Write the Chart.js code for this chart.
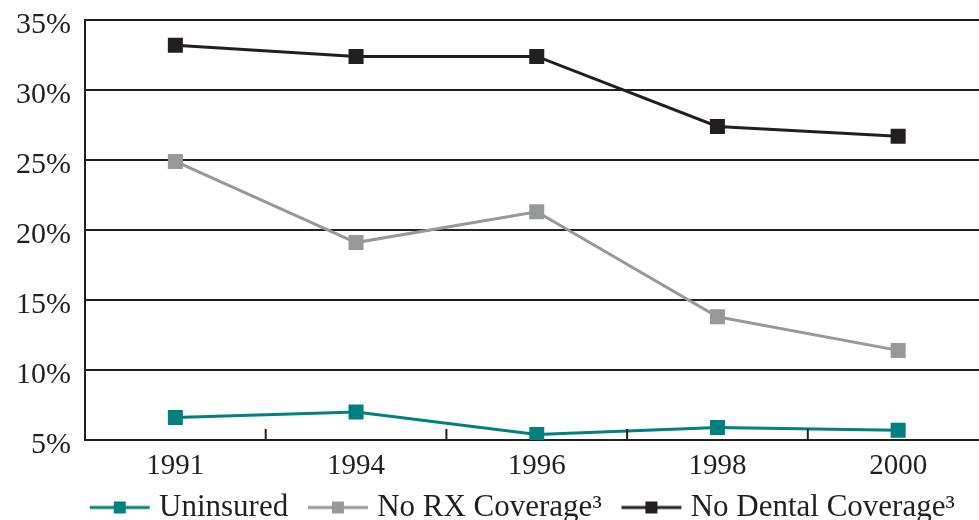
<!DOCTYPE html>
<html>
<head>
    <title>Coverage Chart</title>
    <script src="https://cdn.jsdelivr.net/npm/chart.js"></script>
    <style>
        html, body { margin: 0; padding: 0; overflow: hidden; background: #fff; }
        #wrap { width: 1000px; height: 533px; }
    </style>
</head>
<body>
    <div id="wrap"><canvas id="coverageChart"></canvas></div>
    <script>
        // data
        const years = ['1991', '1994', '1996', '1998', '2000'];
        const uninsured = [6.6, 7.0, 5.4, 5.9, 5.7];
        const noRx = [24.9, 19.1, 21.3, 13.8, 11.4];
        const noDental = [33.2, 32.4, 32.4, 27.4, 26.7];
        const yTicks = [5, 10, 15, 20, 25, 30, 35];

        const teal = '#00817f';
        const grey = '#97989a';
        const black = '#231f20';
        const serif = "'Liberation Serif', 'DejaVu Serif', serif";

        // legend swatch: line with a square marker in the middle
        // (line sits left of the image centre so the text gap stays small)
        function swatch(color) {
            const c = document.createElement('canvas');
            c.width = 100; c.height = 14;
            const g = c.getContext('2d');
            const a = 31;
            g.strokeStyle = color; g.lineWidth = 3;
            g.beginPath(); g.moveTo(a, 7); g.lineTo(a + 60, 7); g.stroke();
            g.fillStyle = color;
            g.fillRect(a + 24, 1, 12, 12);
            return c;
        }

        // short tick marks between categories, drawn upward from the x axis
        const innerTicks = {
            id: 'innerTicks',
            afterDatasetsDraw(chart) {
                const x = chart.scales.x;
                const ctx = chart.ctx;
                const bottom = chart.chartArea.bottom;
                ctx.save();
                ctx.strokeStyle = black;
                ctx.lineWidth = 2;
                for (let i = 1; i < years.length; i++) {
                    const px = (x.getPixelForTick(i - 1) + x.getPixelForTick(i)) / 2;
                    ctx.beginPath();
                    ctx.moveTo(px, bottom);
                    ctx.lineTo(px, bottom - 11);
                    ctx.stroke();
                }
                ctx.restore();
            }
        };

        // legend starts just under the y axis, like the original
        const legendShift = {
            id: 'legendShift',
            afterLayout(chart) {
                chart.legend.left = chart.chartArea.left - 15;
            }
        };

        function series(label, data, color) {
            return {
                label: label,
                data: data,
                borderColor: color,
                backgroundColor: color,
                borderWidth: 3,
                pointStyle: 'rect',
                pointRadius: 8.5,
                pointHoverRadius: 8.5,
                tension: 0,
                legendSwatch: swatch(color)
            };
        }

        const ctx = document.getElementById('coverageChart').getContext('2d');
        new Chart(ctx, {
            type: 'line',
            data: {
                labels: years,
                datasets: [
                    series('Uninsured', uninsured, teal),
                    series('No RX Coverage\u00b3', noRx, grey),
                    series('No Dental Coverage\u00b3', noDental, black)
                ]
            },
            options: {
                responsive: true,
                maintainAspectRatio: false,
                animation: false,
                layout: { padding: { top: 20, left: 8, right: 0, bottom: 0 } },
                plugins: {
                    tooltip: { enabled: false },
                    legend: {
                        position: 'bottom',
                        align: 'start',
                        labels: {
                            usePointStyle: true,
                            pointStyleWidth: 69.5,
                            padding: 4,
                            color: black,
                            font: { family: serif, size: 31 },
                            generateLabels(chart) {
                                return chart.data.datasets.map((d, i) => ({
                                    text: d.label,
                                    fillStyle: d.borderColor,
                                    strokeStyle: d.borderColor,
                                    lineWidth: 0,
                                    pointStyle: d.legendSwatch,
                                    fontColor: black,
                                    hidden: false,
                                    datasetIndex: i
                                }));
                            }
                        }
                    }
                },
                scales: {
                    x: {
                        offset: true,
                        grid: { display: false, drawTicks: false },
                        border: { display: true, color: black, width: 2 },
                        ticks: {
                            color: black,
                            padding: 9,
                            font: { family: serif, size: 29 }
                        },
                        afterFit(axis) { axis.height = 48; }
                    },
                    y: {
                        min: 5,
                        max: 35,
                        afterBuildTicks(axis) {
                            axis.ticks = yTicks.map(v => ({ value: v }));
                        },
                        afterFit(axis) {
                            axis.width = 77;
                            axis.paddingTop = 0;
                            axis.paddingBottom = 0;
                        },
                        grid: { color: black, lineWidth: 2, drawTicks: false },
                        border: { display: true, color: black, width: 2 },
                        ticks: {
                            color: black,
                            padding: 14,
                            labelOffset: 5,
                            font: { family: serif, size: 30 },
                            callback: v => v + '%'
                        }
                    }
                }
            },
            plugins: [innerTicks, legendShift]
        });
    </script>
</body>
</html>
